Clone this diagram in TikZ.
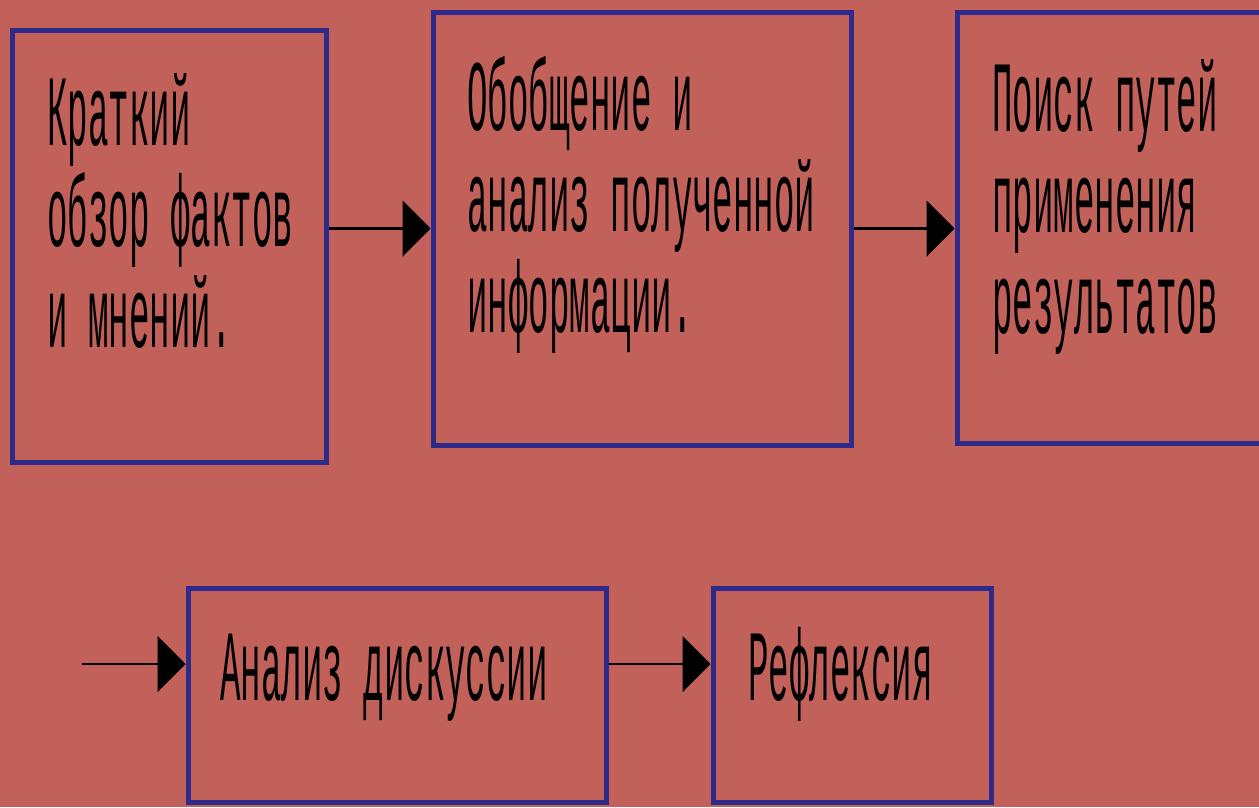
\documentclass[tikz,border=0pt]{standalone}
\usepackage{fontspec}
\usetikzlibrary{arrows.meta}
\newfontfamily\condfont[FakeStretch=0.338]{Liberation Mono}
\definecolor{bgcol}{RGB}{193,97,90}
\definecolor{bordercol}{RGB}{46,42,138}
\tikzset{
  box/.style={draw=bordercol, line width=5pt, inner sep=0pt, rectangle},
  label/.style={anchor=base west, inner sep=0pt, align=left, text=black,
    font=\condfont\fontsize{101pt}{101pt}\selectfont},
  arr/.style={draw=black, line width=2.5pt, -{Triangle[length=28pt,width=56pt]}}
}
\begin{document}
\begin{tikzpicture}[x=1pt,y=-1pt]
\useasboundingbox[fill=bgcol] (0,0) rectangle (1259,807);
\node[box, minimum width=314pt, minimum height=432pt] (b1) at (169,246) {};
\node[box, minimum width=418pt, minimum height=433pt] (b2) at (642,228.5) {};
\node[box, minimum width=323pt, minimum height=431pt] (b3) at (1118.5,227.5) {};
\node[box, minimum width=418pt, minimum height=214pt] (b4) at (397,695) {};
\node[box, minimum width=278pt, minimum height=214pt] (b5) at (852,695) {};
\node[label] (t1) at (47,347) {Краткий\\обзор фактов\\и мнений.};
\node[label] (t2) at (467,332) {Обобщение и\\анализ полученной\\информации.};
\node[label] (t3) at (992,333) {Поиск путей\\применения\\результатов};
\node[label] (t4) at (220,700) {Анализ дискуссии};
\node[label] (t5) at (748,700) {Рефлексия};
\coordinate (s) at (82,664);
\draw[arr] (b1.east |- b2.west) -- (b2.west);
\draw[arr] (b2.east) -- (b3.west |- b2.east);
\draw[arr] (s) -- (s -| b4.west);
\draw[arr] (b4.east |- s) -- (b5.west |- s);
\end{tikzpicture}
\end{document}
